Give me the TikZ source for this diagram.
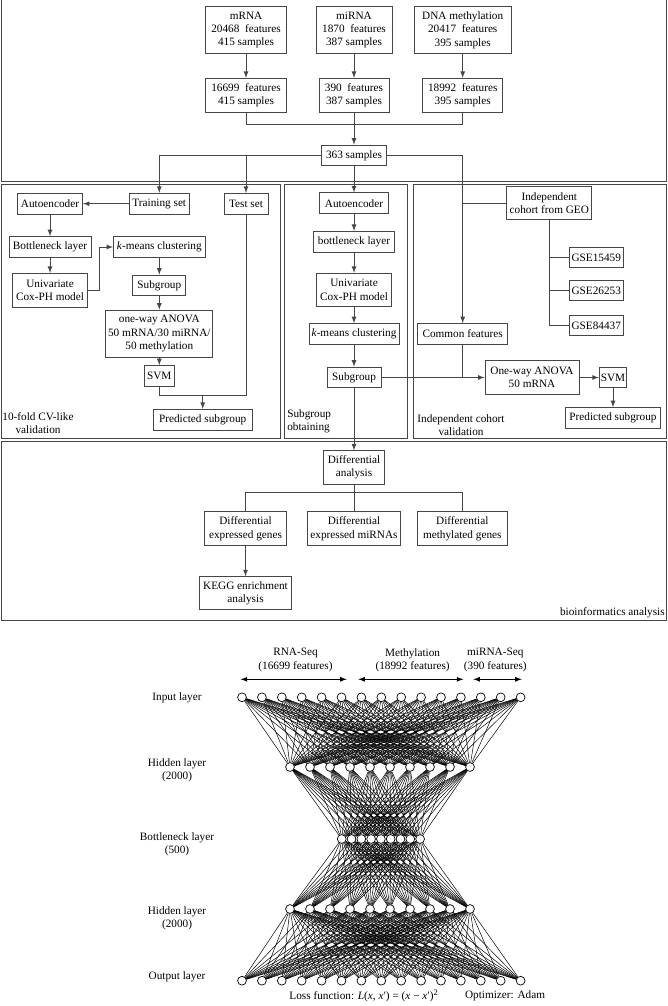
\documentclass[tikz,border=0pt]{standalone}
\usepackage{fontspec}
\setmainfont{Liberation Serif}
\usepackage{tikz}
\usetikzlibrary{arrows}
\definecolor{linegray}{RGB}{70,70,70}
\tikzstyle{box} = [rectangle, draw=linegray, line width=0.6pt, text centered, align=center, font=\footnotesize, inner sep=1pt, minimum height=0.52cm]
\tikzstyle{lab} = [font=\footnotesize, align=center, inner sep=0pt]
\tikzstyle{arrow} = [line width=0.6pt, draw=linegray, ->, >=latex]
\tikzstyle{line} = [line width=0.6pt, draw=linegray]
\tikzstyle{frame} = [line width=0.6pt, draw=linegray]
\tikzstyle{twoway} = [line width=0.6pt, <->, >=latex]
\tikzstyle{neuron} = [circle, draw=black, fill=white, line width=0.5pt, minimum size=0.22cm, inner sep=0pt]
\tikzstyle{synapse} = [line width=0.35pt, draw=black]

\begin{document}
\begin{tikzpicture}[x=0.025cm, y=-0.025cm]
    \useasboundingbox (0,0) rectangle (668,1006);
    \fill[white] (0,0) rectangle (668,1006);

    \draw[frame] (1.5,0) -- (1.5,181.5) -- (666.5,181.5) -- (666.5,0);
    \draw[frame] (1.5,184) rectangle (280,438);
    \draw[frame] (284,184) rectangle (407.7,438);
    \draw[frame] (413.3,184) rectangle (666.5,438);
    \draw[frame] (1.5,441.7) rectangle (666.5,620);

    \node(mrna) [box, minimum width=2.03cm, minimum height=1.17cm] at (246,30) {mRNA\\20468\ \ features\\415 samples};
    \node(mirna) [box, minimum width=1.9cm, minimum height=1.17cm] at (354,30) {miRNA\\1870\ \ features\\387 samples};
    \node(meth) [box, minimum width=2.43cm, minimum height=1.17cm] at (462.7,30) {DNA methylation\\20417\ \ features\\395 samples};
    \node(mrnaf) [box, minimum width=2.03cm, minimum height=0.85cm] at (246,95.3) {16699\ \ features\\415 samples};
    \node(mirnaf) [box, minimum width=1.75cm, minimum height=0.85cm] at (354,95.3) {390\ \ features\\387 samples};
    \node(methf) [box, minimum width=2.01cm, minimum height=0.85cm] at (462.7,95.3) {18992\ \ features\\395 samples};
    \node(samples) [box, minimum width=1.64cm] at (354,155.5) {363 samples};
    \coordinate(join) at (354,124);

    \draw[arrow] (mrna) -- (mrnaf);
    \draw[arrow] (mirna) -- (mirnaf);
    \draw[arrow] (meth) -- (methf);
    \draw[line] (mrnaf) |- (join);
    \draw[line] (methf) |- (join);
    \draw[arrow] (mirnaf) -- (samples);

    \node(train) [box, minimum width=1.5cm] at (159.3,203.7) {Training set};
    \node(test) [box, minimum width=1.1cm] at (246,203.7) {Test set};
    \node(autoL) [box, minimum width=1.63cm] at (50,203.7) {Autoencoder};
    \node(bottL) [box, minimum width=2.05cm] at (50,247) {Bottleneck layer};
    \node(coxL) [box, minimum width=1.89cm, minimum height=0.85cm] at (50,290.3) {Univariate\\Cox-PH model};
    \node(kmL) [box, minimum width=2.29cm] at (159.3,247) {\textit{k}-means clustering};
    \node(subL) [box, minimum width=1.32cm] at (159.3,285.5) {Subgroup};
    \node(anovaL) [box, minimum width=2.67cm, minimum height=1.18cm] at (159.3,333.7) {one-way ANOVA\\50 mRNA/30 miRNA/\\50 methylation};
    \node(svmL) [box, minimum width=0.74cm] at (159.3,376) {SVM};
    \node(predL) [box, minimum width=2.47cm] at (202.7,419.7) {Predicted subgroup};
    \coordinate(mergeL) at (202.7,395);
    \node(cvlab) [lab] at (38,423) {10-fold CV-like\\validation};

    \draw[arrow] (samples.west) -| (train.north);
    \draw[arrow] (samples.west) -| (test.north);
    \draw[arrow] (train) -- (autoL);
    \draw[arrow] (autoL) -- (bottL);
    \draw[arrow] (bottL) -- (coxL);
    \draw[arrow] (coxL.east) -- ++(11,0) |- (kmL.west);
    \draw[arrow] (kmL) -- (subL);
    \draw[arrow] (subL) -- (anovaL);
    \draw[arrow] (anovaL) -- (svmL);
    \draw[line] (svmL) |- (mergeL);
    \draw[line] (test) |- (mergeL);
    \draw[arrow] (mergeL) -- (predL);

    \node(autoM) [box, minimum width=1.71cm] at (354,203.3) {Autoencoder};
    \node(bottM) [box, minimum width=2.04cm] at (354,241.7) {bottleneck layer};
    \node(coxM) [box, minimum width=1.89cm, minimum height=0.84cm] at (354,290) {Univariate\\Cox-PH model};
    \node(kmM) [box, minimum width=2.25cm] at (354,334) {\textit{k}-means clustering};
    \node(subM) [box, minimum width=1.35cm] at (354,377.5) {Subgroup};
    \node(oblab) [lab, align=left, anchor=west] at (287,421.5) {Subgroup\\obtaining};

    \draw[arrow] (samples) -- (autoM);
    \draw[arrow] (autoM) -- (bottM);
    \draw[arrow] (bottM) -- (coxM);
    \draw[arrow] (coxM) -- (kmM);
    \draw[arrow] (kmM) -- (subM);

    \node(geo) [box, minimum width=2.13cm, minimum height=0.83cm] at (549.3,203.3) {Independent\\cohort from GEO};
    \node(gse1) [box, minimum width=1.35cm] at (596.3,257.5) {GSE15459};
    \node(gse2) [box, minimum width=1.35cm] at (596.3,290.5) {GSE26253};
    \node(gse3) [box, minimum width=1.35cm] at (596.3,325.5) {GSE84437};
    \node(common) [box, minimum width=2.25cm] at (462.7,334) {Common features};
    \node(anovaR) [box, minimum width=2.35cm, minimum height=0.83cm] at (532,377.5) {One-way ANOVA\\50 mRNA};
    \node(svmR) [box, minimum width=0.69cm] at (613,377.5) {SVM};
    \node(predR) [box, minimum width=2.38cm] at (613,418) {Predicted subgroup};
    \node(indlab) [lab] at (461,425) {Independent cohort\\validation};

    \draw[arrow] (samples.east) -| (common.north);
    \draw[line] (geo.west) -- (geo.west -| common.north);
    \draw[line] (geo.south) |- (gse1.west);
    \draw[line] (geo.south) |- (gse2.west);
    \draw[line] (geo.south) |- (gse3.west);
    \draw[arrow] (subM) -- (anovaR);
    \draw[line] (common) -- (common.south |- anovaR.west);
    \draw[arrow] (anovaR) -- (svmR);
    \draw[arrow] (svmR) -- (predR);

    \node(diff) [box, minimum width=1.54cm, minimum height=0.84cm] at (354,467.5) {Differential\\analysis};
    \node(degs) [box, minimum width=2.05cm, minimum height=0.85cm] at (245.5,528.7) {Differential\\expressed genes};
    \node(demirs) [box, minimum width=2.32cm, minimum height=0.85cm] at (354,528.7) {Differential\\expressed miRNAs};
    \node(dmgs) [box, minimum width=2.24cm, minimum height=0.85cm] at (462.3,528.7) {Differential\\methylated genes};
    \node(kegg) [box, minimum width=2.29cm, minimum height=0.83cm] at (245.5,593.3) {KEGG enrichment\\analysis};
    \node(biolab) [lab, anchor=east] at (665,612.5) {bioinformatics analysis};
    \coordinate(branch) at (354,492.7);

    \draw[arrow] (subM) -- (diff);
    \draw[line] (diff) -- (demirs);
    \draw[line] (branch) -| (degs);
    \draw[line] (branch) -| (dmgs);
    \draw[arrow] (degs) -- (kegg);

    \foreach \i in {0,...,14}
        \node(in\i) [neuron] at ({242+19.9*\i},697.3) {};
    \foreach \i in {0,...,9}
        \node(hA\i) [neuron] at ({290+20*\i},767) {};
    \foreach \i in {0,...,8}
        \node(bn\i) [neuron] at ({341.7+9.8*\i},839) {};
    \foreach \i in {0,...,9}
        \node(hB\i) [neuron] at ({290+20*\i},909) {};
    \foreach \i in {0,...,14}
        \node(out\i) [neuron] at ({242+19.9*\i},980.7) {};

    \foreach \i in {0,...,14}
        \foreach \j in {0,...,9}
            \draw[synapse] (in\i) -- (hA\j);
    \foreach \i in {0,...,9}
        \foreach \j in {0,...,8}
            \draw[synapse] (hA\i) -- (bn\j);
    \foreach \i in {0,...,8}
        \foreach \j in {0,...,9}
            \draw[synapse] (bn\i) -- (hB\j);
    \foreach \i in {0,...,9}
        \foreach \j in {0,...,14}
            \draw[synapse] (hB\i) -- (out\j);

    \node(inlab) [lab] at (177,698) {Input layer};
    \node(hAlab) [lab] at (177,770) {Hidden layer\\(2000)};
    \node(bnlab) [lab] at (177,844) {Bottleneck layer\\(500)};
    \node(hBlab) [lab] at (177,918) {Hidden layer\\(2000)};
    \node(outlab) [lab] at (177,977) {Output layer};

    \node(rnalab) [lab] at (295.5,660) {RNA-Seq\\(16699 features)};
    \node(methlab) [lab] at (412.6,660) {Methylation\\(18992 features)};
    \node(mirlab) [lab] at (495.3,660) {miRNA-Seq\\(390 features)};
    \coordinate(rnaA) at (240.7,679.3);
    \coordinate(rnaB) at (346.7,679.3);
    \coordinate(methA) at (358.3,679.3);
    \coordinate(methB) at (463.3,679.3);
    \coordinate(mirA) at (473.3,679.3);
    \coordinate(mirB) at (521.7,679.3);
    \draw[twoway] (rnaA) -- (rnaB);
    \draw[twoway] (methA) -- (methB);
    \draw[twoway] (mirA) -- (mirB);

    \node(loss) [lab] at (364,996) {Loss function: \textit{L}(\textit{x}, \textit{x}′) = (\textit{x} − \textit{x}′)\textsuperscript{2}};
    \node(optim) [lab] at (505,996) {Optimizer: Adam};
\end{tikzpicture}
\end{document}
